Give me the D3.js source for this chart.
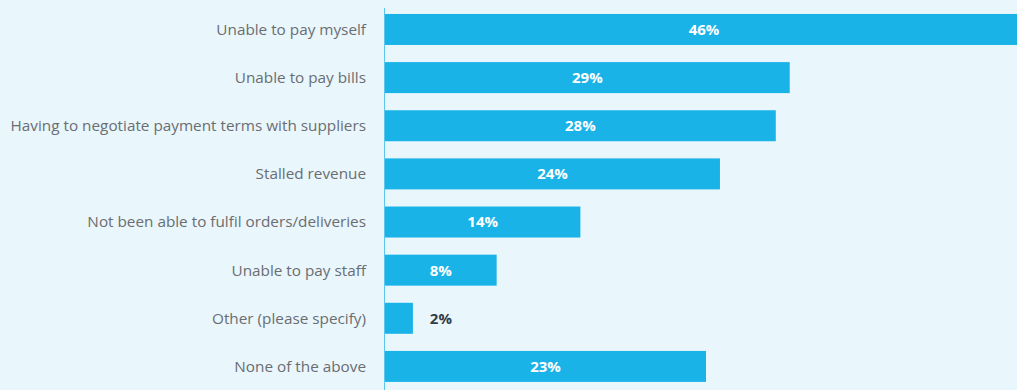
<!DOCTYPE html>
<html>
<head>
<meta charset="utf-8">
<script src="https://cdn.jsdelivr.net/npm/d3@7/dist/d3.min.js"></script>
<style>
  html, body { margin: 0; padding: 0; background: #e9f6fc; }
  svg { display: block; }
</style>
</head>
<body>
<svg id="chart" width="1017" height="390"></svg>
<script>
const categories = [
  "Unable to pay myself",
  "Unable to pay bills",
  "Having to negotiate payment terms with suppliers",
  "Stalled revenue",
  "Not been able to fulfil orders/deliveries",
  "Unable to pay staff",
  "Other (please specify)",
  "None of the above"
];
const values = [46, 29, 28, 24, 14, 8, 2, 23];
const valueLabels = ["46%", "29%", "28%", "24%", "14%", "8%", "2%", "23%"];

const W = 1017, H = 390;
const svg = d3.select("#chart");

svg.append("rect").attr("width", W).attr("height", H).attr("fill", "#e9f6fc");

const x0 = 385;
const x = d3.scaleLinear().domain([0, 46]).range([x0, x0 + 642]);
const y = d3.scaleBand().domain(categories)
  .range([5.4, 390.5])
  .paddingInner(0.356)
  .paddingOuter(0.178);

const rows = svg.append("g").selectAll("g")
  .data(categories.map((c, i) => ({ c, v: values[i], label: valueLabels[i] })))
  .join("g");

rows.append("rect")
  .attr("x", x(0))
  .attr("y", d => y(d.c))
  .attr("width", d => x(d.v) - x(0))
  .attr("height", y.bandwidth())
  .attr("fill", "#1ab3e8");

rows.append("text")
  .attr("x", 366)
  .attr("y", d => y(d.c) + y.bandwidth() / 2)
  .attr("dy", "0.35em")
  .attr("text-anchor", "end")
  .attr("font-family", "'Open Sans', 'Noto Sans', sans-serif")
  .attr("font-size", 15.3)
  .attr("fill", "#6a6d71")
  .text(d => d.c);

rows.append("text")
  .attr("x", d => {
    const w = x(d.v) - x(0);
    return w > 50 ? x(0) + w / 2 - (d.v === 46 ? 2 : 0) : x(d.v) + 28;
  })
  .attr("y", d => y(d.c) + y.bandwidth() / 2)
  .attr("dy", "0.36em")
  .attr("text-anchor", "middle")
  .attr("font-family", "'Open Sans', 'Noto Sans', sans-serif")
  .attr("font-weight", "bold")
  .attr("font-size", 15)
  .attr("fill", d => (x(d.v) - x(0)) > 50 ? "#ffffff" : "#333e48")
  .text(d => d.label);

// vertical baseline
svg.append("line")
  .attr("x1", x0 - 0.5).attr("x2", x0 - 0.5)
  .attr("y1", 8).attr("y2", H)
  .attr("stroke", "#5cc6ee")
  .attr("stroke-width", 1);
</script>
</body>
</html>
